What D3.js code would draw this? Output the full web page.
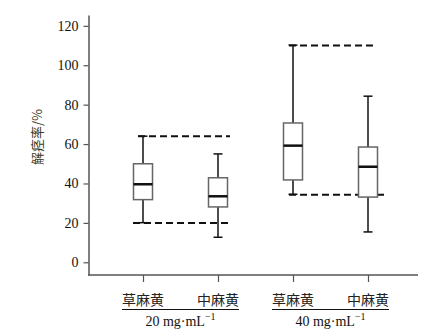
<!DOCTYPE html>
<html><head><meta charset="utf-8">
<script src="https://cdn.jsdelivr.net/npm/d3@7"></script>
<style>body{margin:0;background:#fff}svg{display:block}</style>
</head><body>
<svg id="c" width="434" height="332"></svg>
<script>
const categories = ["草麻黄","中麻黄","草麻黄","中麻黄"];
const groupLabels = ["20 mg·mL","40 mg·mL"];
const groupSup = ["−1","−1"];
const whiskerLow  = [20.1, 12.7, 34.5, 15.4];
const q1          = [31.8, 28.1, 41.8, 33.1];
const median      = [39.6, 33.5, 59.2, 48.5];
const q3          = [50.0, 42.9, 70.7, 58.5];
const whiskerHigh = [64.0, 55.0, 110.2, 84.3];
const refUpper = [64, 110];
const refLower = [20, 34.3];
const yTicks = [0,20,40,60,80,100,120];
const yTitle = "解痉率/%";

const svg = d3.select("#c");
const serif = "'Liberation Serif','Times New Roman',serif";
const cjk = "'Noto Sans CJK SC',sans-serif";
const y = d3.scaleLinear().domain([-6.45,125.5]).range([275,15]);
const idx = categories.map((d,i)=>i);
const x = d3.scalePoint().domain(idx).range([143,368]);

// y axis
const ya = svg.append("g").attr("transform","translate(88.5,0)")
  .call(d3.axisLeft(y).tickValues(yTicks).tickSize(5).tickSizeOuter(0));
ya.select(".domain").attr("stroke","#555").attr("stroke-width",1.5);
ya.selectAll(".tick line").attr("stroke","#555").attr("stroke-width",1.2);
ya.selectAll(".tick text").attr("font-family",serif).attr("font-size",14).attr("fill","#111").attr("x",-10);

// x axis
const xa = svg.append("g").attr("transform","translate(0,275)")
  .call(d3.axisBottom(x).tickSize(7).tickFormat(""));
xa.select(".domain").remove();
xa.selectAll(".tick line").attr("stroke","#555").attr("stroke-width",1.2);
svg.append("line").attr("x1",88).attr("x2",418).attr("y1",275).attr("y2",275)
  .attr("stroke","#555").attr("stroke-width",1.5);

// y title
svg.append("text").attr("transform","translate(42,137) rotate(-90)")
  .attr("text-anchor","middle").attr("font-family",cjk).attr("font-size",13)
  .attr("fill","#3a3a22").text(yTitle);

// dashed reference lines
const dash = "7,4";
const refSpecs = [
  {v:refUpper[0], a:0, b:1, o1:-5, o2:12},
  {v:refLower[0], a:0, b:1, o1:-10, o2:14},
  {v:refUpper[1], a:2, b:3, o1:-4, o2:7},
  {v:refLower[1], a:2, b:3, o1:-4, o2:17}
];
svg.selectAll(".ref").data(refSpecs).enter().append("line")
  .attr("x1",d=>x(d.a)+d.o1).attr("x2",d=>x(d.b)+d.o2)
  .attr("y1",d=>y(d.v)).attr("y2",d=>y(d.v))
  .attr("stroke","#111").attr("stroke-width",2).attr("stroke-dasharray",dash);

// boxes
const bw = 19, cw = 9;
const g = svg.selectAll(".box").data(idx).enter().append("g");
g.append("line").attr("x1",i=>x(i)).attr("x2",i=>x(i))
  .attr("y1",i=>y(whiskerHigh[i])).attr("y2",i=>y(q3[i]))
  .attr("stroke","#111").attr("stroke-width",1.5);
g.append("line").attr("x1",i=>x(i)).attr("x2",i=>x(i))
  .attr("y1",i=>y(q1[i])).attr("y2",i=>y(whiskerLow[i]))
  .attr("stroke","#111").attr("stroke-width",1.5);
g.append("line").attr("x1",i=>x(i)-cw/2).attr("x2",i=>x(i)+cw/2)
  .attr("y1",i=>y(whiskerHigh[i])).attr("y2",i=>y(whiskerHigh[i]))
  .attr("stroke","#111").attr("stroke-width",1.5);
g.append("line").attr("x1",i=>x(i)-cw/2).attr("x2",i=>x(i)+cw/2)
  .attr("y1",i=>y(whiskerLow[i])).attr("y2",i=>y(whiskerLow[i]))
  .attr("stroke","#111").attr("stroke-width",1.5);
g.append("rect").attr("x",i=>x(i)-bw/2).attr("width",bw)
  .attr("y",i=>y(q3[i])).attr("height",i=>y(q1[i])-y(q3[i]))
  .attr("fill","#fff").attr("stroke","#666").attr("stroke-width",1.5);
g.append("line").attr("x1",i=>x(i)-bw/2).attr("x2",i=>x(i)+bw/2)
  .attr("y1",i=>y(median[i])).attr("y2",i=>y(median[i]))
  .attr("stroke","#111").attr("stroke-width",2.5);

// category labels
const labs = svg.selectAll(".cl").data(idx).enter().append("text")
  .attr("x",i=>x(i)).attr("y",305).attr("text-anchor","middle")
  .attr("font-family",cjk).attr("font-size",14).attr("fill","#222")
  .text(i=>categories[i]);
const boxes = labs.nodes().map(n=>n.getBBox());
[0,1].forEach(gi=>{
  const b1 = boxes[gi*2], b2 = boxes[gi*2+1];
  svg.append("line").attr("x1",b1.x).attr("x2",b2.x+b2.width)
    .attr("y1",309.5).attr("y2",309.5).attr("stroke","#111").attr("stroke-width",1.2);
  const cx = (b1.x + b2.x + b2.width)/2;
  const t = svg.append("text").attr("x",cx).attr("y",326).attr("text-anchor","middle")
    .attr("font-family",serif).attr("font-size",14).attr("fill","#111");
  t.append("tspan").text(groupLabels[gi]);
  t.append("tspan").attr("dy",-6).attr("font-size",10).text(groupSup[gi]);
});
</script>
</body></html>
